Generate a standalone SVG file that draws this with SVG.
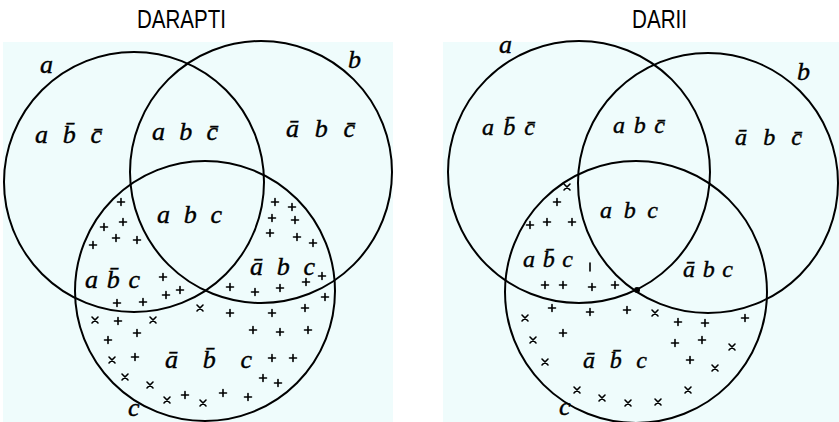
<svg xmlns="http://www.w3.org/2000/svg" xmlns:xlink="http://www.w3.org/1999/xlink" width="839" height="422" viewBox="0 0 839 422">
<style>
.bg{fill:#effcfc}
.ring{fill:none;stroke:#000;stroke-width:2}
.title{font-family:"Liberation Sans",Arial,sans-serif;font-size:25px;fill:#000}
.lbl{font-family:"Liberation Serif","DejaVu Serif",serif;font-style:italic;font-size:26px;fill:#000;stroke:#000;stroke-width:0.4}
.lbs{font-size:24px}
.set{font-family:"Liberation Serif","DejaVu Serif",serif;font-style:italic;font-size:26px;fill:#000;stroke:#000;stroke-width:0.4}
.mk{stroke:#000;stroke-width:1.6;fill:none;stroke-linecap:round}
</style>
<defs>
<path id="p" class="mk" d="M-3.5,0h7M0,-3.5v7"/>
<path id="x" class="mk" d="M-3,-3L3,3M3,-3L-3,3"/>
</defs>
<rect width="839" height="422" fill="#fff"/>
<text class="title" x="137" y="28" textLength="89" lengthAdjust="spacingAndGlyphs">DARAPTI</text>
<text class="title" x="632" y="28" textLength="55" lengthAdjust="spacingAndGlyphs">DARII</text>

<g id="darapti">
<rect class="bg" x="3" y="42" width="390" height="380"/>
<circle id="L-a" class="ring" cx="134" cy="182" r="130"/>
<circle id="L-b" class="ring" cx="261" cy="172" r="131"/>
<circle id="L-c" class="ring" cx="205" cy="291" r="130"/>
<text class="set" x="40" y="73">a</text>
<text class="set" x="348" y="68">b</text>
<text class="set" x="128" y="416" font-size="24">c</text>
<text class="lbl" x="35" y="143" textLength="67" lengthAdjust="spacing">ab̄c̄</text>
<text class="lbl" x="152" y="140" textLength="66" lengthAdjust="spacing">abc̄</text>
<text class="lbl" x="286" y="137" textLength="69" lengthAdjust="spacing">ābc̄</text>
<text class="lbl" x="157" y="223" textLength="65" lengthAdjust="spacing">abc</text>
<text class="lbl" x="85" y="288" textLength="55" lengthAdjust="spacing">ab̄c</text>
<text class="lbl" x="250" y="275" textLength="65" lengthAdjust="spacing">ābc</text>
<text class="lbl" x="165" y="368" textLength="87" lengthAdjust="spacing">āb̄c</text>
<g id="L-marks">
<use xlink:href="#p" x="121" y="202"/><use xlink:href="#p" x="123" y="222"/><use xlink:href="#p" x="104" y="227"/>
<use xlink:href="#p" x="116" y="238"/><use xlink:href="#p" x="137" y="240"/><use xlink:href="#p" x="93" y="245"/>
<use xlink:href="#p" x="163" y="277"/><use xlink:href="#p" x="180" y="290"/><use xlink:href="#p" x="166" y="295"/>
<use xlink:href="#p" x="117" y="303"/><use xlink:href="#p" x="143" y="302"/>
<use xlink:href="#p" x="275" y="202"/><use xlink:href="#p" x="292" y="207"/><use xlink:href="#p" x="272" y="218"/>
<use xlink:href="#p" x="295" y="220"/><use xlink:href="#p" x="270" y="233"/><use xlink:href="#p" x="297" y="237"/>
<use xlink:href="#p" x="313" y="243"/><use xlink:href="#p" x="322" y="276"/><use xlink:href="#p" x="306" y="282"/>
<use xlink:href="#p" x="230" y="287"/><use xlink:href="#p" x="255" y="292"/><use xlink:href="#p" x="280" y="288"/>
<use xlink:href="#p" x="325" y="297"/>
<use xlink:href="#x" x="95" y="320"/><use xlink:href="#p" x="118" y="321"/><use xlink:href="#x" x="153" y="320"/>
<use xlink:href="#p" x="137" y="333"/><use xlink:href="#p" x="108" y="340"/><use xlink:href="#x" x="200" y="308"/>
<use xlink:href="#p" x="230" y="313"/><use xlink:href="#p" x="272" y="313"/><use xlink:href="#p" x="305" y="308"/>
<use xlink:href="#p" x="253" y="330"/><use xlink:href="#p" x="280" y="332"/><use xlink:href="#p" x="308" y="330"/>
<use xlink:href="#x" x="112" y="360"/><use xlink:href="#p" x="135" y="357"/><use xlink:href="#p" x="272" y="358"/>
<use xlink:href="#p" x="293" y="358"/><use xlink:href="#x" x="125" y="377"/><use xlink:href="#x" x="150" y="385"/>
<use xlink:href="#x" x="167" y="400"/><use xlink:href="#p" x="185" y="395"/><use xlink:href="#x" x="203" y="403"/>
<use xlink:href="#p" x="223" y="393"/><use xlink:href="#p" x="248" y="397"/><use xlink:href="#p" x="263" y="378"/>
<use xlink:href="#p" x="278" y="383"/>
</g>
</g>

<g id="darii">
<rect class="bg" x="443" y="42" width="396" height="380"/>
<circle id="R-a" class="ring" cx="579" cy="172" r="131"/>
<circle id="R-b" class="ring" cx="708" cy="183" r="130"/>
<circle id="R-c" class="ring" cx="636" cy="292" r="131"/>
<circle cx="637" cy="290" r="3" fill="#000"/>
<text class="set" x="499" y="53" font-size="22">a</text>
<text class="set" x="797" y="80">b</text>
<text class="set" x="559" y="415" font-size="22">c</text>
<text class="lbl lbs" x="482" y="135" textLength="53" lengthAdjust="spacing">ab̄c̄</text>
<text class="lbl lbs" x="613" y="133" textLength="52" lengthAdjust="spacing">abc̄</text>
<text class="lbl lbs" x="735" y="145" textLength="67" lengthAdjust="spacing">ābc̄</text>
<text class="lbl lbs" x="600" y="218" textLength="58" lengthAdjust="spacing">abc</text>
<text class="lbl lbs" x="523" y="267" textLength="50" lengthAdjust="spacing">ab̄c</text>
<text class="lbl lbs" x="683" y="277" textLength="50" lengthAdjust="spacing">ābc</text>
<text class="lbl lbs" x="583" y="368" textLength="64" lengthAdjust="spacing">āb̄c</text>
<g id="R-marks">
<use xlink:href="#x" x="567" y="187"/><use xlink:href="#p" x="557" y="202"/><use xlink:href="#p" x="530" y="225"/>
<use xlink:href="#p" x="547" y="222"/><use xlink:href="#p" x="572" y="222"/>
<path class="mk" d="M590,263v8"/>
<use xlink:href="#p" x="545" y="285"/><use xlink:href="#p" x="563" y="285"/><use xlink:href="#p" x="592" y="287"/>
<use xlink:href="#p" x="615" y="285"/>
<use xlink:href="#x" x="525" y="318"/><use xlink:href="#p" x="552" y="308"/><use xlink:href="#p" x="590" y="312"/>
<use xlink:href="#p" x="627" y="310"/><use xlink:href="#x" x="655" y="313"/><use xlink:href="#p" x="678" y="322"/>
<use xlink:href="#p" x="705" y="323"/><use xlink:href="#p" x="745" y="318"/><use xlink:href="#x" x="533" y="340"/>
<use xlink:href="#p" x="563" y="333"/><use xlink:href="#p" x="675" y="343"/><use xlink:href="#p" x="702" y="340"/>
<use xlink:href="#x" x="732" y="347"/><use xlink:href="#x" x="545" y="362"/><use xlink:href="#p" x="690" y="360"/>
<use xlink:href="#x" x="715" y="368"/><use xlink:href="#x" x="577" y="390"/><use xlink:href="#x" x="602" y="398"/>
<use xlink:href="#x" x="628" y="403"/><use xlink:href="#x" x="658" y="402"/><use xlink:href="#x" x="688" y="390"/>
</g>
</g>
</svg>
